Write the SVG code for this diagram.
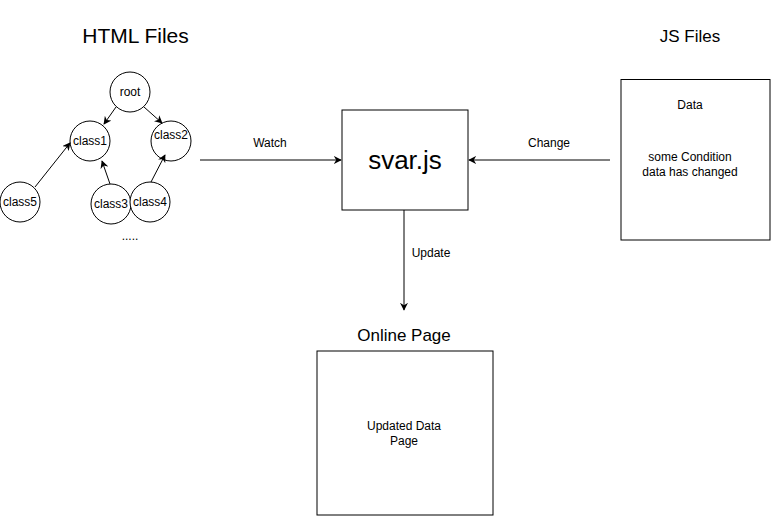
<svg xmlns="http://www.w3.org/2000/svg" width="771" height="516" viewBox="0 0 771 516">
<style>
text{font-family:"Liberation Sans",Arial,sans-serif;fill:#000;text-anchor:middle}
.n{fill:#fff;stroke:#000;stroke-width:1}
.c{fill:none;stroke:#000;stroke-width:1;marker-end:url(#ah)}
.s{font-size:12px}
</style>
<defs>
<marker id="ah" viewBox="0 0 10 10" refX="9" refY="5" markerWidth="8" markerHeight="8" orient="auto" markerUnits="userSpaceOnUse">
<path d="M0,0 L10,5 L0,10 L3,5 Z" fill="#000"/>
</marker>
</defs>
<rect width="771" height="516" fill="#fff"/>
<text x="135.5" y="43" font-size="21">HTML Files</text>
<text x="690" y="42" font-size="17">JS Files</text>
<text x="404" y="341" font-size="17">Online Page</text>
<g id="root"><circle class="n" cx="130" cy="92" r="20"/><text x="130" y="96" class="s">root</text></g>
<g id="class1"><circle class="n" cx="90" cy="141" r="20"/><text x="90" y="145" class="s">class1</text></g>
<g id="class2"><circle class="n" cx="171" cy="141" r="20"/><text x="171" y="139" class="s">class2</text></g>
<g id="class5"><circle class="n" cx="20" cy="202" r="20"/><text x="20" y="206" class="s">class5</text></g>
<g id="class3"><circle class="n" cx="111" cy="204" r="20"/><text x="111" y="208" class="s">class3</text></g>
<g id="class4"><circle class="n" cx="150" cy="202" r="20"/><text x="150" y="206" class="s">class4</text></g>
<text x="130" y="240" class="s">.....</text>
<g id="svar"><rect class="n" x="342" y="110" width="126" height="100"/><text x="405" y="169" font-size="26">svar.js</text></g>
<g id="jsdata"><rect class="n" x="621" y="79.5" width="149" height="160.5"/>
<text x="690" y="109" class="s">Data</text>
<text x="690" y="161" class="s">some Condition</text>
<text x="690" y="176" class="s">data has changed</text></g>
<g id="online"><rect class="n" x="317" y="351" width="176" height="164"/>
<text x="404" y="430" class="s">Updated Data</text>
<text x="404" y="445" class="s">Page</text></g>
<g id="connectors">
<line class="c" x1="116" y1="107" x2="104" y2="124"/>
<line class="c" x1="144" y1="107" x2="162" y2="123"/>
<line class="c" x1="35" y1="187" x2="70" y2="143"/>
<line class="c" x1="110" y1="184" x2="102" y2="161"/>
<line class="c" x1="151" y1="182" x2="165" y2="155"/>
<line class="c" x1="200" y1="160" x2="341" y2="160"/>
<line class="c" x1="610" y1="160" x2="469" y2="160"/>
<line class="c" x1="404" y1="210" x2="404" y2="310"/>
<text x="270" y="147" class="s">Watch</text>
<text x="549" y="147" class="s">Change</text>
<text x="431" y="257" class="s">Update</text>
</g>
</svg>
